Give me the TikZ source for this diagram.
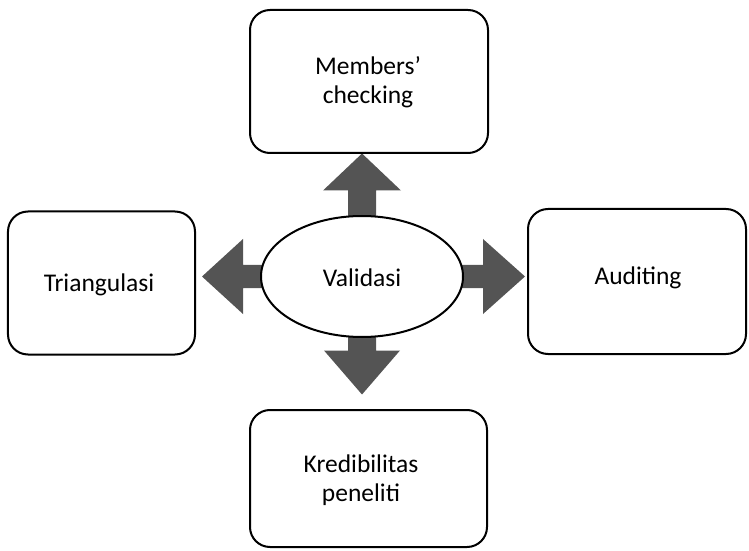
\documentclass[tikz,border=0pt]{standalone}
\usepackage{fontspec}
\setmainfont{Carlito}
\usetikzlibrary{backgrounds,calc,shapes.geometric}
\definecolor{arrowgray}{gray}{0.33}
\tikzset{
  box/.style={draw=black, line width=2bp, rounded corners=20bp, fill=white, inner sep=0pt},
  hub/.style={draw=black, line width=2bp, ellipse, fill=white, inner sep=0pt},
  label text/.style={anchor=base, align=center, inner sep=0pt,
              font=\fontsize{25.5bp}{29bp}\selectfont},
  blockarrow/.style={fill=arrowgray, draw=none}
}
% block arrow pointing along +x from the hub centre, then rotated
% #1 = angle, #2 = shaft half width, #3 = head base, #4 = tip, #5 = head half width
\newcommand{\hubarrow}[5]{%
  \fill[blockarrow, rotate around={#1:(hub.center)}]
    ($(hub.center)+(30,-#2)$) -- ($(hub.center)+(#3,-#2)$) --
    ($(hub.center)+(#3,-#5)$) -- ($(hub.center)+(#4,0)$) --
    ($(hub.center)+(#3,#5)$) -- ($(hub.center)+(#3,#2)$) --
    ($(hub.center)+(30,#2)$) -- cycle;}
\begin{document}
\begin{tikzpicture}[x=1bp,y=-1bp]
  \useasboundingbox (0,0) rectangle (749,551);

  % central ellipse
  \node[hub, minimum width=202bp, minimum height=121bp] (hub) at (362,276.5) {};
  \node[label text] (hubtext) at (362,287) {Validasi};

  % four surrounding boxes
  \node[box, minimum width=238bp, minimum height=143bp] (top)   at (369,81.5)  {};
  \node[box, minimum width=237bp, minimum height=137bp] (bot)   at (368.5,478.5) {};
  \node[box, minimum width=187bp, minimum height=143bp] (left)  at (101.5,283)  {};
  \node[box, minimum width=218bp, minimum height=145bp] (right) at (637,281.5) {};

  % box texts (base anchor sits on the last line)
  \node[label text] (toptext)   at (368,104) {Members’\\checking};
  \node[label text] (bottext)   at (361,501) {Kredibilitas\\peneliti};
  \node[label text] (lefttext)  at (99,292)  {Triangulasi};
  \node[label text] (righttext) at (638,285) {Auditing};

  % block arrows from the hub towards each box, behind the ellipse
  \begin{scope}[on background layer]
    \hubarrow{-90}{14}{74}{118}{38}
    \hubarrow{90}{14}{86}{123}{39}
    \hubarrow{180}{11.5}{119}{160}{37.5}
    \hubarrow{0}{11.5}{121}{163}{37.5}
  \end{scope}
\end{tikzpicture}
\end{document}
